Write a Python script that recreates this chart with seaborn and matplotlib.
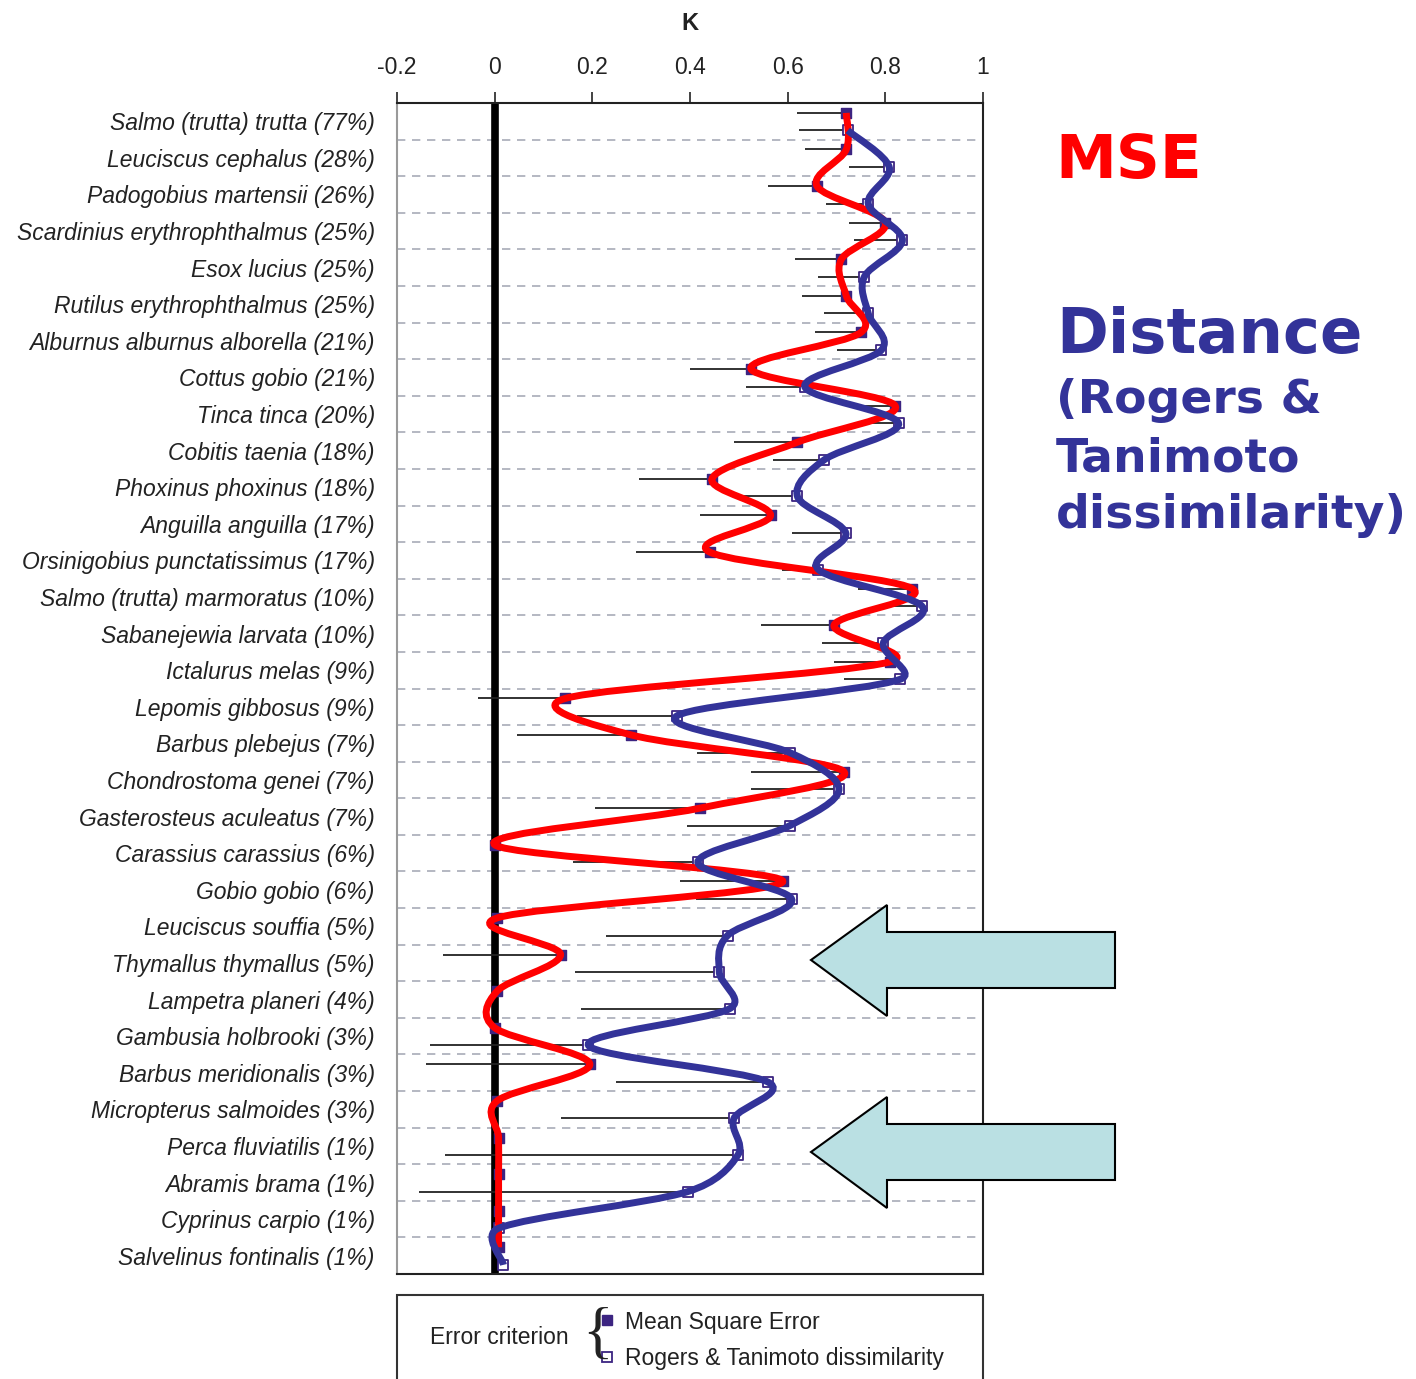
import numpy as np
import seaborn as sns
import matplotlib.pyplot as plt
from matplotlib.path import Path
from matplotlib.patches import PathPatch, Polygon, Rectangle
from matplotlib.lines import Line2D

# species, top to bottom
species = ['Salmo (trutta) trutta (77%)', 'Leuciscus cephalus (28%)', 'Padogobius martensii (26%)',
           'Scardinius erythrophthalmus (25%)', 'Esox lucius (25%)', 'Rutilus erythrophthalmus (25%)',
           'Alburnus alburnus alborella (21%)', 'Cottus gobio (21%)', 'Tinca tinca (20%)',
           'Cobitis taenia (18%)', 'Phoxinus phoxinus (18%)', 'Anguilla anguilla (17%)',
           'Orsinigobius punctatissimus (17%)', 'Salmo (trutta) marmoratus (10%)',
           'Sabanejewia larvata (10%)', 'Ictalurus melas (9%)', 'Lepomis gibbosus (9%)',
           'Barbus plebejus (7%)', 'Chondrostoma genei (7%)', 'Gasterosteus aculeatus (7%)',
           'Carassius carassius (6%)', 'Gobio gobio (6%)', 'Leuciscus souffia (5%)',
           'Thymallus thymallus (5%)', 'Lampetra planeri (4%)', 'Gambusia holbrooki (3%)',
           'Barbus meridionalis (3%)', 'Micropterus salmoides (3%)', 'Perca fluviatilis (1%)',
           'Abramis brama (1%)', 'Cyprinus carpio (1%)', 'Salvelinus fontinalis (1%)']

# K with mean square error criterion (value and lower error)
mse = [0.72, 0.72, 0.66, 0.80, 0.71, 0.72, 0.75, 0.525, 0.82, 0.62, 0.445, 0.565, 0.44, 0.855,
       0.695, 0.81, 0.145, 0.28, 0.715, 0.42, 0.0, 0.59, 0.005, 0.135, 0.005, 0.0, 0.195, 0.005,
       0.008, 0.008, 0.008, 0.008]
mse_err = [0.10, 0.085, 0.10, 0.075, 0.095, 0.09, 0.095, 0.125, 0.085, 0.13, 0.15, 0.145, 0.15,
           0.11, 0.15, 0.115, 0.18, 0.235, 0.19, 0.215, 0.0, 0.21, 0.0, 0.24, 0.0, 0.0, 0.335,
           0.0, 0.0, 0.0, 0.0, 0.0]

# K with Rogers & Tanimoto dissimilarity (value and lower error)
rt = [0.723, 0.808, 0.765, 0.835, 0.757, 0.765, 0.792, 0.635, 0.827, 0.675, 0.62, 0.719, 0.663,
      0.875, 0.796, 0.83, 0.373, 0.604, 0.705, 0.604, 0.416, 0.608, 0.477, 0.46, 0.481, 0.192,
      0.559, 0.49, 0.498, 0.395, 0.008, 0.018]
rt_err = [0.10, 0.083, 0.087, 0.10, 0.095, 0.09, 0.09, 0.12, 0.09, 0.105, 0.125, 0.11, 0.075,
          0.06, 0.125, 0.115, 0.205, 0.19, 0.18, 0.21, 0.255, 0.195, 0.25, 0.295, 0.305, 0.325,
          0.31, 0.355, 0.60, 0.55, 0.0, 0.0]

xticks = [-0.2, 0, 0.2, 0.4, 0.6, 0.8, 1]
xticklabels = ['-0.2', '0', '0.2', '0.4', '0.6', '0.8', '1']

W, H = 1416, 1379


def fx(px):
    return px / W


def fy(py):
    return 1 - py / H


def smooth_path(x, y, xscale=13.4):
    # excel-like smoothed line: bezier arms of 1/6, capped at half the segment
    pts = np.column_stack([x, y]).astype(float)
    sc = np.array([xscale, 1.0])
    p = np.vstack([pts[0], pts, pts[-1]])
    verts = [pts[0]]
    codes = [Path.MOVETO]
    for i in range(len(pts) - 1):
        p0, p1, p2, p3 = p[i], p[i + 1], p[i + 2], p[i + 3]
        d12 = np.hypot(*((p2 - p1) * sc))
        d02 = np.hypot(*((p2 - p0) * sc))
        d13 = np.hypot(*((p3 - p1) * sc))
        f1 = 1 / 6 if d02 / 6 < d12 / 2 else d12 / d02 / 2
        f2 = 1 / 6 if d13 / 6 < d12 / 2 else d12 / d13 / 2
        verts += [p1 + (p2 - p0) * f1, p2 - (p3 - p1) * f2, p2]
        codes += [Path.CURVE4] * 3
    return Path(verts, codes)


sns.set_style('white')
plt.rcParams['font.family'] = ['Liberation Sans', 'DejaVu Sans']

fig = plt.figure(figsize=(W / 100, H / 100), dpi=100)
ax = fig.add_axes([fx(397), fy(1274), fx(983) - fx(397), fy(103) - fy(1274)])

n = len(species)
pos = np.arange(n) + 0.5
y_mse = pos - 0.23
y_rt = pos + 0.25

# dashed separators
for k in range(1, n):
    ax.axhline(k, color='#a8acb8', lw=1.2, ls=(0, (5, 4)), zorder=1)

ax.axvline(0, color='black', lw=5.5, zorder=2)

ax.errorbar(mse, y_mse, xerr=[mse_err, np.zeros(n)], fmt='none', ecolor='#222222',
            elinewidth=1.3, capsize=0, zorder=3)
ax.errorbar(rt, y_rt, xerr=[rt_err, np.zeros(n)], fmt='none', ecolor='#222222',
            elinewidth=1.3, capsize=0, zorder=3)

sns.scatterplot(x=mse, y=y_mse, marker='s', s=60, color='#3c2481', edgecolor='#3c2481',
                linewidth=1, ax=ax, zorder=4)
sns.scatterplot(x=rt, y=y_rt, marker='s', s=55, color='white', edgecolor='#3c2481',
                linewidth=1.3, ax=ax, zorder=4)

ax.add_patch(PathPatch(smooth_path(mse, y_mse), fill=False, edgecolor='#ff0000', lw=5,
                       capstyle='butt', zorder=5))
ax.add_patch(PathPatch(smooth_path(rt, y_rt), fill=False, edgecolor='#333399', lw=5,
                       capstyle='butt', zorder=6))

ax.set_xlim(-0.2, 1)
ax.set_ylim(n, 0)
ax.xaxis.tick_top()
ax.set_xticks(xticks)
ax.set_xticklabels(xticklabels, fontsize=16.5, color='#222222')
ax.tick_params(axis='x', direction='out', length=8, width=1.2, pad=9, colors='#222222')
ax.xaxis.set_label_position('top')
ax.set_xlabel('K', fontsize=17, fontweight='bold', labelpad=19, color='#222222')

ax.set_yticks(pos)
ax.set_yticklabels(species, fontsize=16.5, fontstyle='italic', color='#222222')
ax.tick_params(axis='y', length=0, pad=16)

for side in ['top', 'right', 'bottom']:
    ax.spines[side].set_color('#222222')
    ax.spines[side].set_linewidth(1.5)
ax.spines['left'].set_color('#9a9a9a')
ax.spines['left'].set_linewidth(1.5)

# titles on the right
fig.text(fx(1055), fy(178), 'MSE', color='#ff0000', fontsize=44, fontweight='bold',
         family='DejaVu Sans', va='baseline')
fig.text(fx(1056), fy(353), 'Distance', color='#333399', fontsize=45, fontweight='bold',
         family='DejaVu Sans', va='baseline')
for txt, yb in [('(Rogers &', 413), ('Tanimoto', 472), ('dissimilarity)', 528)]:
    fig.text(fx(1056), fy(yb), txt, color='#333399', fontsize=34, fontweight='bold',
             family='DejaVu Sans', va='baseline')

# arrows
for tip_y in [960, 1152]:
    pts = [(811, tip_y), (887, tip_y - 55), (887, tip_y - 28), (1115, tip_y - 28),
           (1115, tip_y + 28), (887, tip_y + 28), (887, tip_y + 56)]
    fig.add_artist(Polygon([(fx(a), fy(b)) for a, b in pts], closed=True,
                           transform=fig.transFigure, facecolor='#bae0e3',
                           edgecolor='black', lw=1.5, zorder=10))

# legend box
fig.add_artist(Rectangle((fx(397), fy(1400)), fx(983) - fx(397), fy(1295) - fy(1400),
                         transform=fig.transFigure, fill=False, edgecolor='#333333', lw=1.5))
fig.text(fx(430), fy(1338), 'Error criterion', fontsize=16.5, color='#222222', va='center')
fig.text(fx(597), fy(1337), '{', fontsize=46, color='#222222', va='center', ha='center',
         family='Liberation Serif')
fig.add_artist(Line2D([fx(607)], [fy(1320)], marker='s', markersize=7, color='#3c2481',
                      transform=fig.transFigure))
fig.add_artist(Line2D([fx(607)], [fy(1357)], marker='s', markersize=7, markerfacecolor='white',
                      markeredgecolor='#3c2481', markeredgewidth=1.3,
                      transform=fig.transFigure))
fig.text(fx(625), fy(1322), 'Mean Square Error', fontsize=16.5, color='#222222', va='center')
fig.text(fx(625), fy(1359), 'Rogers & Tanimoto dissimilarity', fontsize=16.5, color='#222222',
         va='center')

plt.savefig('out.png', dpi=100)
